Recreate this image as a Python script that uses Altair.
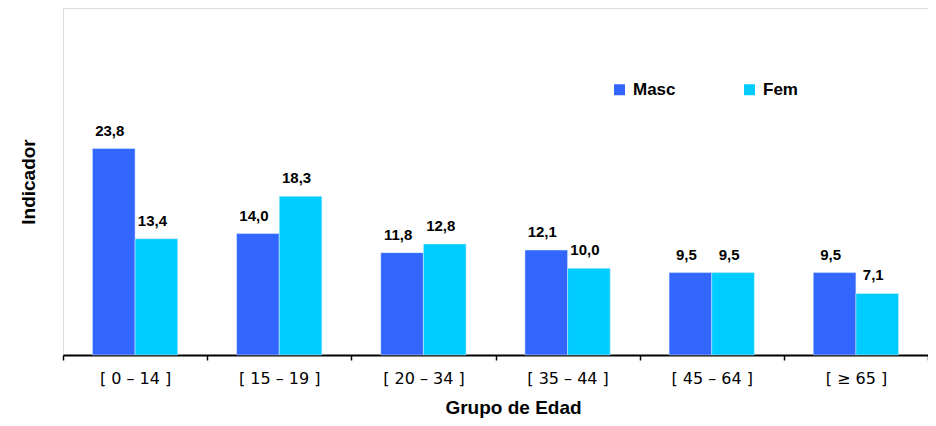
import altair as alt
import pandas as pd

groups = ["[ 0 – 14 ]", "[ 15 – 19 ]", "[ 20 – 34 ]", "[ 35 – 44 ]", "[ 45 – 64 ]", "[ ≥ 65 ]"]
masc = [23.8, 14.0, 11.8, 12.1, 9.5, 9.5]
fem = [13.4, 18.3, 12.8, 10.0, 9.5, 7.1]
series = ["Masc", "Fem"]
colors = ["#3366FF", "#00CCFF"]

rows = []
for g, m, f in zip(groups, masc, fem):
    rows.append({"grupo": g, "sexo": "Masc", "valor": m})
    rows.append({"grupo": g, "sexo": "Fem", "valor": f})
df = pd.DataFrame(rows)
df["etiqueta"] = df["valor"].map(lambda v: f"{v:.1f}".replace(".", ","))

x = alt.X("grupo:N", sort=groups,
          scale=alt.Scale(paddingInner=0, paddingOuter=0),
          axis=alt.Axis(title="Grupo de Edad", labelAngle=0, tickBand="extent",
                        labelFont="DejaVu Sans", labelFontSize=16, labelColor="black",
                        labelPadding=10, tickSize=5, tickColor="black", tickWidth=1.5,
                        domainColor="black", domainWidth=2,
                        titleFont="Liberation Sans", titleFontSize=19, titleFontWeight="bold",
                        titleColor="black", titlePadding=12, titleX=450))
xo = alt.XOffset("sexo:N", sort=series, scale=alt.Scale(paddingOuter=0.69, paddingInner=0))
y = alt.Y("valor:Q", scale=alt.Scale(domain=[0, 40], nice=False),
          axis=alt.Axis(title="Indicador", labels=False, ticks=False, grid=False, domain=False,
                        titleFont="Liberation Sans", titleFontSize=19, titleFontWeight="bold",
                        titleColor="black", titlePadding=25))

bars = alt.Chart(df).mark_bar(stroke="#DDEEFF", strokeWidth=0.5).encode(
    x=x, xOffset=xo, y=y,
    color=alt.Color("sexo:N", sort=series,
                    scale=alt.Scale(domain=series, range=colors),
                    legend=alt.Legend(title=None, orient="none", direction="horizontal",
                                      legendX=548, legendY=73, padding=0,
                                      symbolType="square", symbolSize=121, symbolStrokeWidth=0,
                                      labelFont="Liberation Sans", labelFontSize=17,
                                      labelFontWeight="bold", labelColor="black",
                                      labelOffset=5, columnPadding=65)),
)

labels = alt.Chart(df).mark_text(font="Liberation Sans", fontSize=15, fontWeight="bold",
                                 color="black", baseline="alphabetic", dy=-13, dx=-4).encode(
    x=x, xOffset=xo, y=y, text="etiqueta:N"
)

chart = alt.layer(bars, labels).properties(
    width=865, height=347,
    autosize=alt.AutoSizeParams(type="none"),
    padding={"left": 55, "top": 0, "right": 0, "bottom": 63},
).configure_view(stroke="#888888", strokeWidth=2).configure(background="white")

chart.save("out.html", embed_options={"renderer": "svg", "actions": False})
